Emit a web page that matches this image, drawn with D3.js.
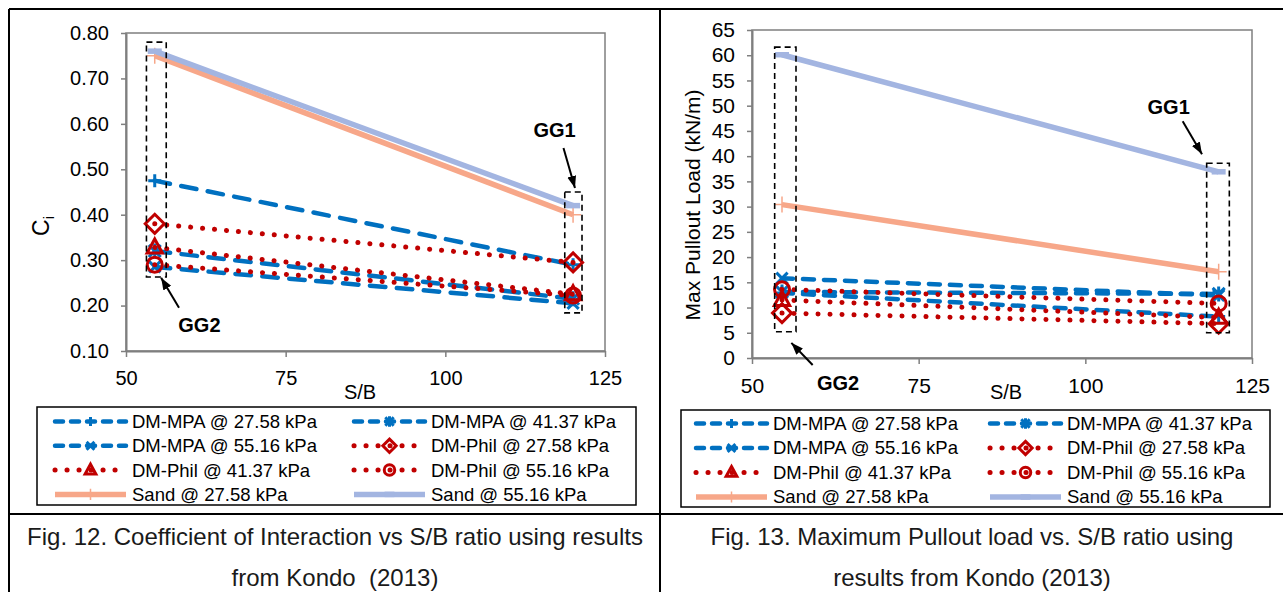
<!DOCTYPE html>
<html>
<head>
<meta charset="utf-8">
<script src="https://cdn.jsdelivr.net/npm/d3@7"></script>
<style>
  body { margin: 0; background: #fff; }
  svg { display: block; font-family: 'Liberation Sans', Arial, sans-serif; }
</style>
</head>
<body>
<svg id="fig" width="1283" height="592"></svg>
<script>
// S/B ratios of the two grids (GG2, GG1)
const sbRatio = [54.5, 120];

const seriesNames = [
    'DM-MPA @ 27.58 kPa', 'DM-MPA @ 41.37 kPa',
    'DM-MPA @ 55.16 kPa', 'DM-Phil @ 27.58 kPa',
    'DM-Phil @ 41.37 kPa', 'DM-Phil @ 55.16 kPa',
    'Sand @ 27.58 kPa', 'Sand @ 55.16 kPa'
];

// Fig. 12 - coefficient of interaction Ci
const ciValues = [
    [0.475, 0.290],
    [0.320, 0.215],
    [0.285, 0.205],
    [0.380, 0.295],
    [0.328, 0.225],
    [0.290, 0.222],
    [0.750, 0.400],
    [0.760, 0.420]
];

// Fig. 13 - max pullout load (kN/m)
const loadValues = [
    [12.9, 8.2],
    [13.1, 12.7],
    [15.8, 12.4],
    [8.9, 6.8],
    [11.5, 8.0],
    [13.6, 10.8],
    [30.4, 17.1],
    [60.1, 36.9]
];

const sbTicks = [50, 75, 100, 125];
const ciTicks = [0.1, 0.2, 0.3, 0.4, 0.5, 0.6, 0.7, 0.8];
const loadTicks = [0, 5, 10, 15, 20, 25, 30, 35, 40, 45, 50, 55, 60, 65];

// GG boxes [x0, x1, y0, y1] and arrows [x0, y0, x1, y1] in data units
const ciBoxes = [[53.2, 56.3, 0.263, 0.780], [118.7, 121.4, 0.184, 0.450]];
const ciArrows = [[58.3, 0.195, 55.5, 0.261], [118.5, 0.547, 120.3, 0.459]];
const ciLabels = [['GG2', 61.5, 0.157], ['GG1', 117.1, 0.586]];
const loadBoxes = [[53.4, 56.6, 5.2, 61.6], [118.2, 121.6, 5.0, 38.6]];
const loadArrows = [[59.1, -1.4, 55.9, 3.0], [114.6, 46.9, 117.5, 40.4]];
const loadLabels = [['GG2', 62.9, -5.0], ['GG1', 112.5, 49.7]];

const blue = '#0070c0', red = '#c00000';
const seriesStyle = [
    { color: blue, line: 'dash', marker: 'plus' },
    { color: blue, line: 'dash', marker: 'star' },
    { color: blue, line: 'dash', marker: 'x' },
    { color: red, line: 'dot', marker: 'diamond' },
    { color: red, line: 'dot', marker: 'triangle' },
    { color: red, line: 'dot', marker: 'circle' },
    { color: '#f7a789', line: 'solid', marker: 'thinplus' },
    { color: '#a3b5e1', line: 'solid', marker: 'bar' }
];

let svg = d3.select('#fig');

svg.append('defs').append('marker')
    .attr('id', 'arrowhead')
    .attr('viewBox', '0 0 12 12')
    .attr('refX', 12).attr('refY', 6)
    .attr('markerWidth', 12).attr('markerHeight', 12)
    .attr('markerUnits', 'userSpaceOnUse')
    .attr('orient', 'auto')
    .append('path')
    .attr('d', 'M0,1.5L12,6L0,10.5Z')
    .attr('fill', '#000');

function markerPath(type, s)
{
    let k = s * 0.8;
    switch (type) {
        case 'plus':
        case 'thinplus':
            return `M${-s},0H${s}M0,${-s}V${s}`;
        case 'x':
            return `M${-k},${-k}L${k},${k}M${-k},${k}L${k},${-k}`;
        case 'star':
            return `M${-k},${-k}L${k},${k}M${-k},${k}L${k},${-k}M0,${-s}V${s}`;
        case 'diamond':
            return `M0,${-s}L${s},0L0,${s}L${-s},0Z`;
        case 'triangle':
            return `M0,${-s}L${s * 0.9},${s * 0.65}L${-s * 0.9},${s * 0.65}Z`;
        case 'circle':
            return `M${s},0A${s},${s} 0 1,1 ${-s},0A${s},${s} 0 1,1 ${s},0Z`;
        case 'bar':
            return `M${-s},0H${s}`;
    }
    return '';
}

let markerSize = { plus: 6.5, thinplus: 8, x: 7, star: 7.5, diamond: 9.5, triangle: 8.5, circle: 7.5, bar: 7 };

function styleLine(sel, st, cfg)
{
    if (st.line === 'dash') {
        sel.attr('stroke-width', 4.5).attr('stroke-linecap', 'round')
            .attr('stroke-dasharray', cfg.dash);
    } else if (st.line === 'dot') {
        sel.attr('stroke-width', 5).attr('stroke-linecap', 'round')
            .attr('stroke-dasharray', '0.1,11.9');
    } else {
        sel.attr('stroke-width', 5.5).attr('stroke-linecap', 'butt');
    }
    return sel.attr('stroke', st.color).attr('fill', 'none');
}

function styleMarker(sel, st)
{
    let w = st.marker === 'thinplus' ? 1.5 : (st.marker === 'bar' ? 5.5 : 3);
    return sel.attr('stroke', st.color).attr('stroke-width', w).attr('fill', 'none');
}

function drawChart(cfg)
{
    let g = svg.append('g');

    let x = d3.scaleLinear().domain([50, 125]).range([cfg.left, cfg.right]);
    let y = d3.scaleLinear().domain(cfg.yDomain).range([cfg.bottom, cfg.top]);

    // plot frame
    g.append('rect')
        .attr('x', cfg.left).attr('y', cfg.top)
        .attr('width', cfg.right - cfg.left).attr('height', cfg.bottom - cfg.top)
        .attr('fill', 'none').attr('stroke', '#7f7f7f').attr('stroke-width', 1.5);

    let xAxis = g.append('g')
        .attr('transform', 'translate(0,' + cfg.bottom + ')')
        .call(d3.axisBottom(x).tickValues(sbTicks).tickSize(6).tickSizeOuter(0).tickPadding(cfg.xPad));

    let yAxis = g.append('g')
        .attr('transform', 'translate(' + cfg.left + ',0)')
        .call(d3.axisLeft(y).tickValues(cfg.ticks).tickFormat(cfg.fmt).tickSize(5).tickSizeOuter(0).tickPadding(12));

    [xAxis, yAxis].forEach(function(a) {
        a.select('.domain').attr('stroke', '#7f7f7f').attr('stroke-width', 2);
        a.selectAll('.tick line').attr('stroke', '#7f7f7f').attr('stroke-width', 1.5);
        a.selectAll('.tick text').attr('fill', '#000').style('font-size', cfg.tickFont + 'px');
    });

    // axis titles
    g.append('text')
        .attr('x', cfg.xTitleX).attr('y', 399)
        .attr('text-anchor', 'middle')
        .style('font-size', '20px')
        .text('S/B');

    let yt = g.append('text')
        .attr('transform', 'translate(' + cfg.yTitleX + ',' + cfg.yTitleY + ') rotate(-90)')
        .attr('text-anchor', 'middle')
        .style('font-size', cfg.yTitleFont + 'px');
    yt.append('tspan').text(cfg.yTitle);
    if (cfg.yTitleSub) {
        yt.append('tspan').attr('dy', 5).style('font-size', '15px').text(cfg.yTitleSub);
    }

    let line = d3.line()
        .x(function(d, i) { return x(sbRatio[i]); })
        .y(function(d) { return y(d); });

    cfg.values.forEach(function(vals, k) {
        let st = seriesStyle[k];
        styleLine(g.append('path').attr('d', line(vals)), st, cfg);
        vals.forEach(function(v, i) {
            styleMarker(g.append('path')
                .attr('d', markerPath(st.marker, markerSize[st.marker]))
                .attr('transform', 'translate(' + x(sbRatio[i]) + ',' + y(v) + ')'), st);
        });
    });

    // GG boxes and arrows
    cfg.boxes.forEach(function(b) {
        g.append('rect')
            .attr('x', x(b[0])).attr('y', y(b[3]))
            .attr('width', x(b[1]) - x(b[0])).attr('height', y(b[2]) - y(b[3]))
            .attr('fill', 'none').attr('stroke', '#000')
            .attr('stroke-width', 1.6).attr('stroke-dasharray', '6,4');
    });
    cfg.arrows.forEach(function(a) {
        g.append('line')
            .attr('x1', x(a[0])).attr('y1', y(a[1]))
            .attr('x2', x(a[2])).attr('y2', y(a[3]))
            .attr('stroke', '#000').attr('stroke-width', 2)
            .attr('marker-end', 'url(#arrowhead)');
    });
    cfg.labels.forEach(function(l) {
        g.append('text')
            .attr('x', x(l[1])).attr('y', y(l[2]))
            .attr('dy', '0.36em')
            .attr('text-anchor', 'middle')
            .style('font-size', '20px').style('font-weight', 'bold')
            .text(l[0]);
    });

    // legend
    let lg = g.append('g');
    lg.append('rect')
        .attr('x', cfg.legend.x0).attr('y', cfg.legend.y0)
        .attr('width', cfg.legend.x1 - cfg.legend.x0).attr('height', cfg.legend.y1 - cfg.legend.y0)
        .attr('fill', '#fff').attr('stroke', '#000').attr('stroke-width', 1.5);

    seriesNames.forEach(function(name, k) {
        let st = seriesStyle[k];
        let col = k % 2, row = Math.floor(k / 2);
        let sx = cfg.legend.cols[col];
        let sy = cfg.legend.rowY + row * cfg.legend.rowStep;
        let sw = cfg.legend.sampleW;
        styleLine(lg.append('path').attr('d', 'M' + sx + ',' + sy + 'H' + (sx + sw)), st,
            { dash: '8,8' });
        styleMarker(lg.append('path')
            .attr('d', markerPath(st.marker, markerSize[st.marker] * 0.7))
            .attr('transform', 'translate(' + (sx + sw / 2) + ',' + sy + ')'), st);
        lg.append('text')
            .attr('x', sx + sw + 6).attr('y', sy)
            .attr('dy', '0.35em')
            .style('font-size', '18.5px')
            .text(name);
    });

    // caption
    cfg.caption.forEach(function(c, i) {
        g.append('text')
            .attr('x', cfg.captionX).attr('y', 545 + i * 41)
            .attr('text-anchor', 'middle')
            .style('font-size', cfg.captionFont + 'px')
            .style('white-space', 'pre')
            .attr('fill', '#1a1a1a')
            .text(c);
    });
}

drawChart({
    left: 126, right: 605, top: 33, bottom: 351,
    yDomain: [0.1, 0.8], ticks: ciTicks, fmt: d3.format('.2f'),
    values: ciValues, tickFont: 20, xPad: 14,
    dash: '15.5,11.5',
    xTitleX: 360,
    yTitle: 'C', yTitleSub: 'i', yTitleX: 49, yTitleY: 226, yTitleFont: 23,
    boxes: ciBoxes, arrows: ciArrows, labels: ciLabels,
    legend: { x0: 37, x1: 636, y0: 407, y1: 505, cols: [55, 354], sampleW: 71, rowY: 421.5, rowStep: 24.3 },
    caption: ['Fig. 12. Coefficient of Interaction vs S/B ratio using results', 'from Kondo  (2013)'],
    captionX: 335, captionFont: 24
});

drawChart({
    left: 752, right: 1252, top: 30, bottom: 358,
    yDomain: [0, 65], ticks: loadTicks, fmt: d3.format('d'),
    values: loadValues, tickFont: 21, xPad: 14,
    dash: '11,10',
    xTitleX: 1006,
    yTitle: 'Max Pullout Load (kN/m)', yTitleX: 700, yTitleY: 205, yTitleFont: 21,
    boxes: loadBoxes, arrows: loadArrows, labels: loadLabels,
    legend: { x0: 681, x1: 1270, y0: 410, y1: 507, cols: [696, 990], sampleW: 71, rowY: 423.5, rowStep: 24.5 },
    caption: ['Fig. 13. Maximum Pullout load vs. S/B ratio using', 'results from Kondo (2013)'],
    captionX: 972, captionFont: 24
});

// table borders
let border = svg.append('g').attr('stroke', '#000').attr('stroke-width', 2);
border.append('line').attr('x1', 9).attr('y1', 9).attr('x2', 1283).attr('y2', 9);
border.append('line').attr('x1', 9).attr('y1', 9).attr('x2', 9).attr('y2', 592);
border.append('line').attr('x1', 660).attr('y1', 9).attr('x2', 660).attr('y2', 592);
border.append('line').attr('x1', 9).attr('y1', 514).attr('x2', 1283).attr('y2', 514);
</script>
</body>
</html>
